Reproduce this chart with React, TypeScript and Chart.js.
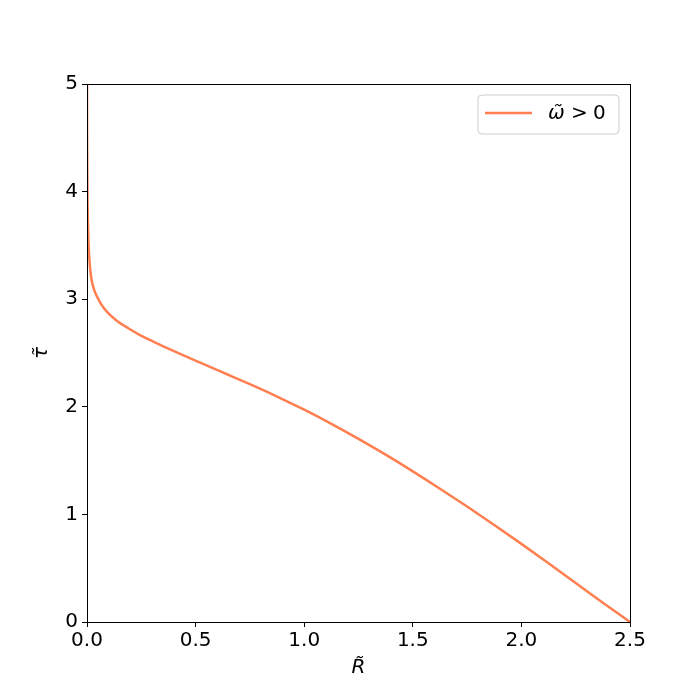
import React, { useEffect, useRef } from "react";
import { Chart, registerables } from "chart.js";

Chart.register(...registerables);

const rValues = [0, 0.0005, 0.002, 0.005, 0.01, 0.018, 0.028, 0.04, 0.055, 0.075, 0.1, 0.137, 0.19, 0.244, 0.31, 0.382, 0.47, 0.566, 0.65, 0.75, 0.87, 1.0, 1.125, 1.25, 1.375, 1.5, 1.625, 1.75, 1.875, 2.0, 2.125, 2.25, 2.375, 2.5];
const tauValues = [5, 4.5, 4.0, 3.65, 3.4, 3.22, 3.12, 3.05, 2.99, 2.925, 2.865, 2.8, 2.73, 2.667, 2.602, 2.534, 2.455, 2.371, 2.298, 2.21, 2.1, 1.973, 1.842, 1.702, 1.555, 1.4, 1.239, 1.073, 0.902, 0.726, 0.546, 0.363, 0.179, 0];
const seriesLabel = "ω̃ > 0";
const xTickValues = [0, 0.5, 1.0, 1.5, 2.0, 2.5];
const yTickValues = [0, 1, 2, 3, 4, 5];
const lineColor = "#ff7f50";

const FONT = "'DejaVu Sans', sans-serif";
const FS = 20;

const framePlugin = {
  id: "frame",
  afterDraw(chart: any) {
    const { ctx, chartArea } = chart;
    ctx.save();
    ctx.strokeStyle = "#000";
    ctx.lineWidth = 1;
    ctx.strokeRect(chartArea.left + 0.5, chartArea.top + 0.5, chartArea.right - chartArea.left, chartArea.bottom - chartArea.top);

    // legend
    const bx = 478, by = 95, bw = 141, bh = 39, r = 4;
    ctx.beginPath();
    ctx.moveTo(bx + r, by);
    ctx.lineTo(bx + bw - r, by);
    ctx.quadraticCurveTo(bx + bw, by, bx + bw, by + r);
    ctx.lineTo(bx + bw, by + bh - r);
    ctx.quadraticCurveTo(bx + bw, by + bh, bx + bw - r, by + bh);
    ctx.lineTo(bx + r, by + bh);
    ctx.quadraticCurveTo(bx, by + bh, bx, by + bh - r);
    ctx.lineTo(bx, by + r);
    ctx.quadraticCurveTo(bx, by, bx + r, by);
    ctx.closePath();
    ctx.fillStyle = "rgba(255,255,255,0.8)";
    ctx.fill();
    ctx.strokeStyle = "#cccccc";
    ctx.lineWidth = 1;
    ctx.stroke();

    ctx.strokeStyle = lineColor;
    ctx.lineWidth = 2.5;
    ctx.beginPath();
    ctx.moveTo(485, 113);
    ctx.lineTo(532, 113);
    ctx.stroke();

    ctx.fillStyle = "#000";
    ctx.textBaseline = "middle";
    ctx.textAlign = "left";
    const parts = seriesLabel.split(" ");
    ctx.font = `italic ${FS}px ${FONT}`;
    ctx.fillText(parts[0], 548, 114);
    ctx.font = `${FS}px ${FONT}`;
    ctx.fillText(parts[1], 571, 114);
    ctx.fillText(parts[2], 593, 114);
    ctx.restore();
  },
};

export default function App() {
  const ref = useRef<HTMLCanvasElement | null>(null);
  useEffect(() => {
    if (!ref.current) return;
    const chart = new Chart(ref.current, {
      type: "line",
      data: {
        datasets: [
          {
            label: seriesLabel,
            data: rValues.map((x, i) => ({ x, y: tauValues[i] })),
            borderColor: lineColor,
            borderWidth: 2.5,
            pointRadius: 0,
            fill: false,
            cubicInterpolationMode: "monotone",
          },
        ],
      },
      options: {
        animation: false,
        responsive: false,
        layout: { padding: { top: 84, right: 70, left: 0, bottom: 0 } },
        plugins: { legend: { display: false }, tooltip: { enabled: false } },
        scales: {
          x: {
            type: "linear",
            min: 0,
            max: 2.5,
            afterBuildTicks: (s: any) => {
              s.ticks = xTickValues.map((v) => ({ value: v }));
            },
            afterFit: (s: any) => {
              s.height = 78;
            },
            grid: { drawOnChartArea: false, drawTicks: true, tickLength: 5, tickColor: "#000" },
            border: { display: true, color: "#000" },
            ticks: {
              color: "#000",
              font: { family: FONT, size: FS },
              padding: 2,
              callback: (v: any) => Number(v).toFixed(1),
              maxRotation: 0,
            },
            title: {
              display: true,
              text: "R̃",
              color: "#000",
              font: { family: FONT, size: FS, style: "italic" },
              padding: { top: 4, bottom: 20 },
            },
          },
          y: {
            type: "linear",
            min: 0,
            max: 5,
            afterBuildTicks: (s: any) => {
              s.ticks = yTickValues.map((v) => ({ value: v }));
            },
            afterFit: (s: any) => {
              s.width = 87;
            },
            grid: { drawOnChartArea: false, drawTicks: true, tickLength: 5, tickColor: "#000" },
            border: { display: true, color: "#000" },
            ticks: {
              color: "#000",
              font: { family: FONT, size: FS },
              padding: 4,
              callback: (v: any) => String(v),
            },
            title: {
              display: true,
              text: "τ̃",
              color: "#000",
              font: { family: FONT, size: FS, style: "italic" },
              padding: { top: 30, bottom: 4 },
            },
          },
        },
      },
      plugins: [framePlugin],
    } as any);
    return () => chart.destroy();
  }, []);
  return (
    <div style={{ position: "absolute", left: 0, top: 0, width: 700, height: 700, background: "#fff" }}>
      <canvas ref={ref} width={700} height={700} style={{ width: 700, height: 700 }} />
    </div>
  );
}
